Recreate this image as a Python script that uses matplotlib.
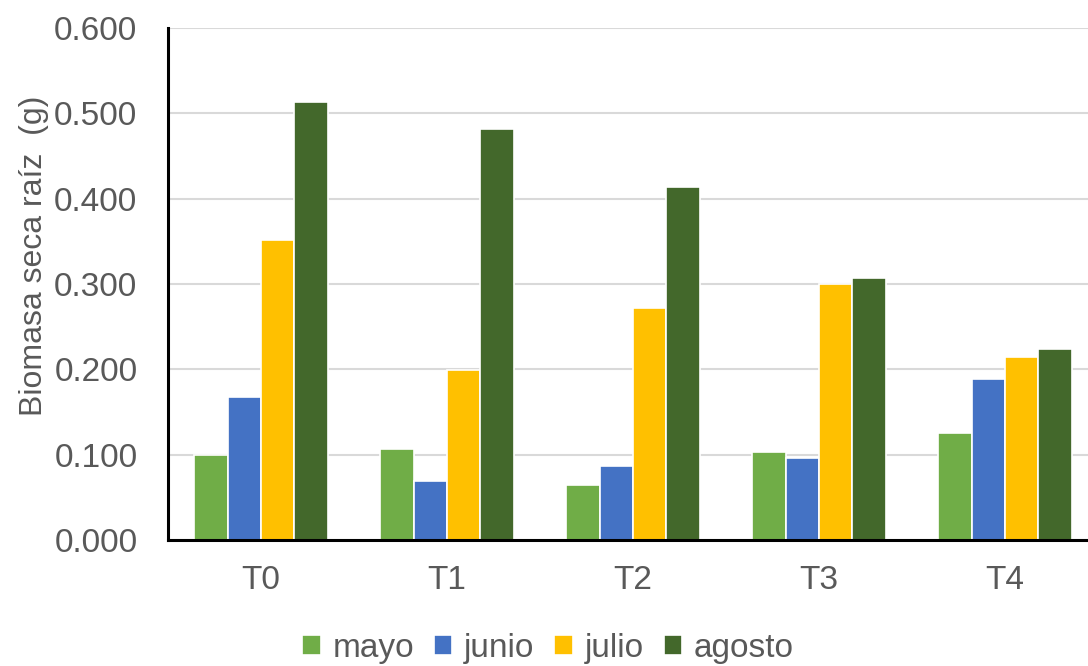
import numpy as np
import matplotlib
matplotlib.use("Agg")
import matplotlib.pyplot as plt

plt.rcParams['font.family'] = ['Liberation Sans', 'DejaVu Sans']

tratamientos = ["T0", "T1", "T2", "T3", "T4"]
meses = ["mayo", "junio", "julio", "agosto"]
colores = ["#70AD47", "#4472C4", "#FFC000", "#43682B"]

mayo = [0.100, 0.107, 0.064, 0.103, 0.125]
junio = [0.168, 0.069, 0.087, 0.096, 0.189]
julio = [0.351, 0.199, 0.272, 0.300, 0.214]
agosto = [0.513, 0.482, 0.414, 0.307, 0.224]
series = [mayo, junio, julio, agosto]

gris = "#595959"

fig = plt.figure(figsize=(10.88, 6.66), dpi=100)
ax = fig.add_axes([168 / 1088, 126 / 666, 930 / 1088, 512 / 666])

x = np.arange(len(tratamientos))
ancho = 0.18
for i, (mes, vals, c) in enumerate(zip(meses, series, colores)):
    offset = (i - 1.5) * ancho
    ax.bar(x + offset, vals, width=ancho, color=c, edgecolor="white",
           linewidth=1.2, label=mes, zorder=3)

ax.set_xlim(-0.5, 4.5)
ax.set_ylim(0, 0.6)
ax.set_yticks(np.arange(0, 0.61, 0.1))
ax.set_yticklabels([f"{v:.3f}" for v in np.arange(0, 0.61, 0.1)])
ax.set_xticks(x)
ax.set_xticklabels(tratamientos)
ax.tick_params(axis="both", length=0, labelsize=24, colors=gris)
ax.tick_params(axis="x", pad=18)
ax.tick_params(axis="y", pad=22)

ax.yaxis.grid(True, color="#D9D9D9", linewidth=1.5, zorder=0)
ax.set_axisbelow(True)
for s in ["top", "right"]:
    ax.spines[s].set_visible(False)
for s in ["left", "bottom"]:
    ax.spines[s].set_color("black")
    ax.spines[s].set_linewidth(2.2)
    ax.spines[s].set_zorder(4)

ax.set_ylabel("Biomasa seca raíz  (g)", fontsize=23, color=gris)
ax.yaxis.set_label_coords(-0.128, 0.555)

leg = fig.legend(loc="center", bbox_to_anchor=(548 / 1088, 1 - 648 / 666),
                 ncol=4, frameon=False, fontsize=24, handlelength=0.55,
                 handleheight=0.55, handletextpad=0.35, columnspacing=0.6)
for t in leg.get_texts():
    t.set_color(gris)

fig.savefig("out.png", dpi=100)
